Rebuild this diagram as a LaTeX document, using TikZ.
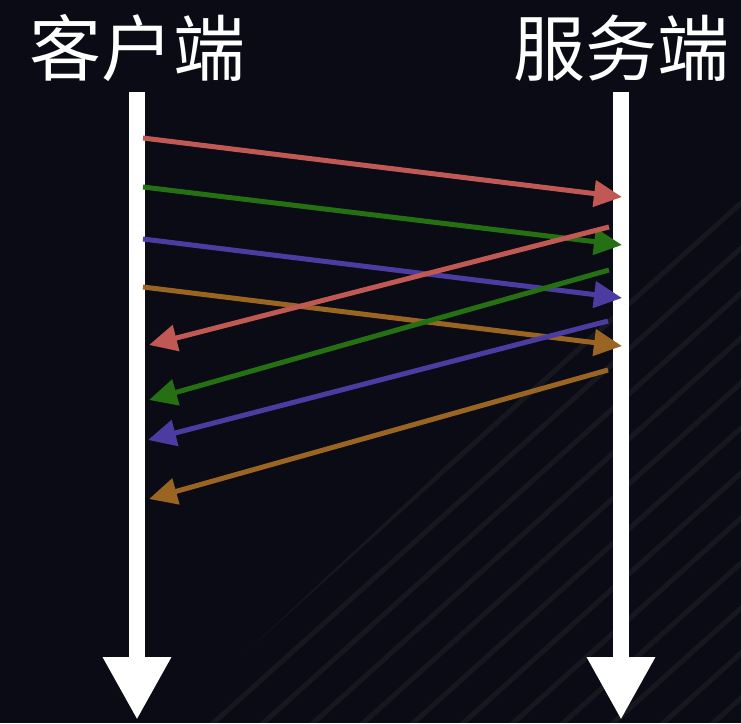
\documentclass[tikz,border=0pt]{standalone}
\usepackage{fontspec}
\newfontfamily\cjk{Noto Sans CJK SC}
\usetikzlibrary{arrows.meta}
\definecolor{bg}{HTML}{0A0B14}
\definecolor{cred}{RGB}{192,88,84}
\definecolor{cgreen}{RGB}{38,112,20}
\definecolor{cblue}{RGB}{76,60,162}
\definecolor{corange}{RGB}{154,100,34}
\tikzset{
  lbl/.style={text=white, font=\cjk\fontsize{72}{72}\selectfont, inner sep=0pt},
  timeline/.style={white, line width=16pt, -{Triangle[length=63pt,width=64pt]}},
  msg/.style={line width=5pt, -{Triangle[length=28pt,width=26pt]}},
  stripe/.style={white, opacity=0.05, line width=5pt}
}
\begin{document}
\begin{tikzpicture}[x=1pt,y=-1pt]
\fill[bg] (0,0) rectangle (741,723);
\useasboundingbox (0,0) rectangle (741,723);
\begin{scope}
  \clip (741,190) -- (741,723) -- (170,723) -- cycle;
  \foreach \x in {-300,-250,...,760}
    \draw[stripe] (\x,780) -- (\x+700,150);
\end{scope}
\node[lbl] (client) at (137,48) {客户端};
\node[lbl] (server) at (621,48) {服务端};
\coordinate (ctop) at (137,92);
\coordinate (cbot) at (137,720);
\coordinate (stop) at (621,92);
\coordinate (sbot) at (621,720);
\draw[timeline] (ctop) -- (cbot);
\draw[timeline] (stop) -- (sbot);
% forward
\coordinate (c1) at (143,138); \coordinate (s1) at (622,197);
\coordinate (c2) at (143,187); \coordinate (s2) at (622,245);
\coordinate (c3) at (143,239); \coordinate (s3) at (622,298);
\coordinate (c4) at (143,287); \coordinate (s4) at (622,346);
\draw[msg, cred] (c1) -- (s1);
\draw[msg, cgreen] (c2) -- (s2);
\draw[msg, cblue] (c3) -- (s3);
\draw[msg, corange] (c4) -- (s4);
% backward
\coordinate (r1) at (609,227); \coordinate (d1) at (149,345);
\coordinate (r2) at (609,270); \coordinate (d2) at (149,400);
\coordinate (r3) at (608,321); \coordinate (d3) at (148,440);
\coordinate (r4) at (608,370); \coordinate (d4) at (149,499);
\draw[msg, cred] (r1) -- (d1);
\draw[msg, cgreen] (r2) -- (d2);
\draw[msg, cblue] (r3) -- (d3);
\draw[msg, corange] (r4) -- (d4);
\end{tikzpicture}
\end{document}
